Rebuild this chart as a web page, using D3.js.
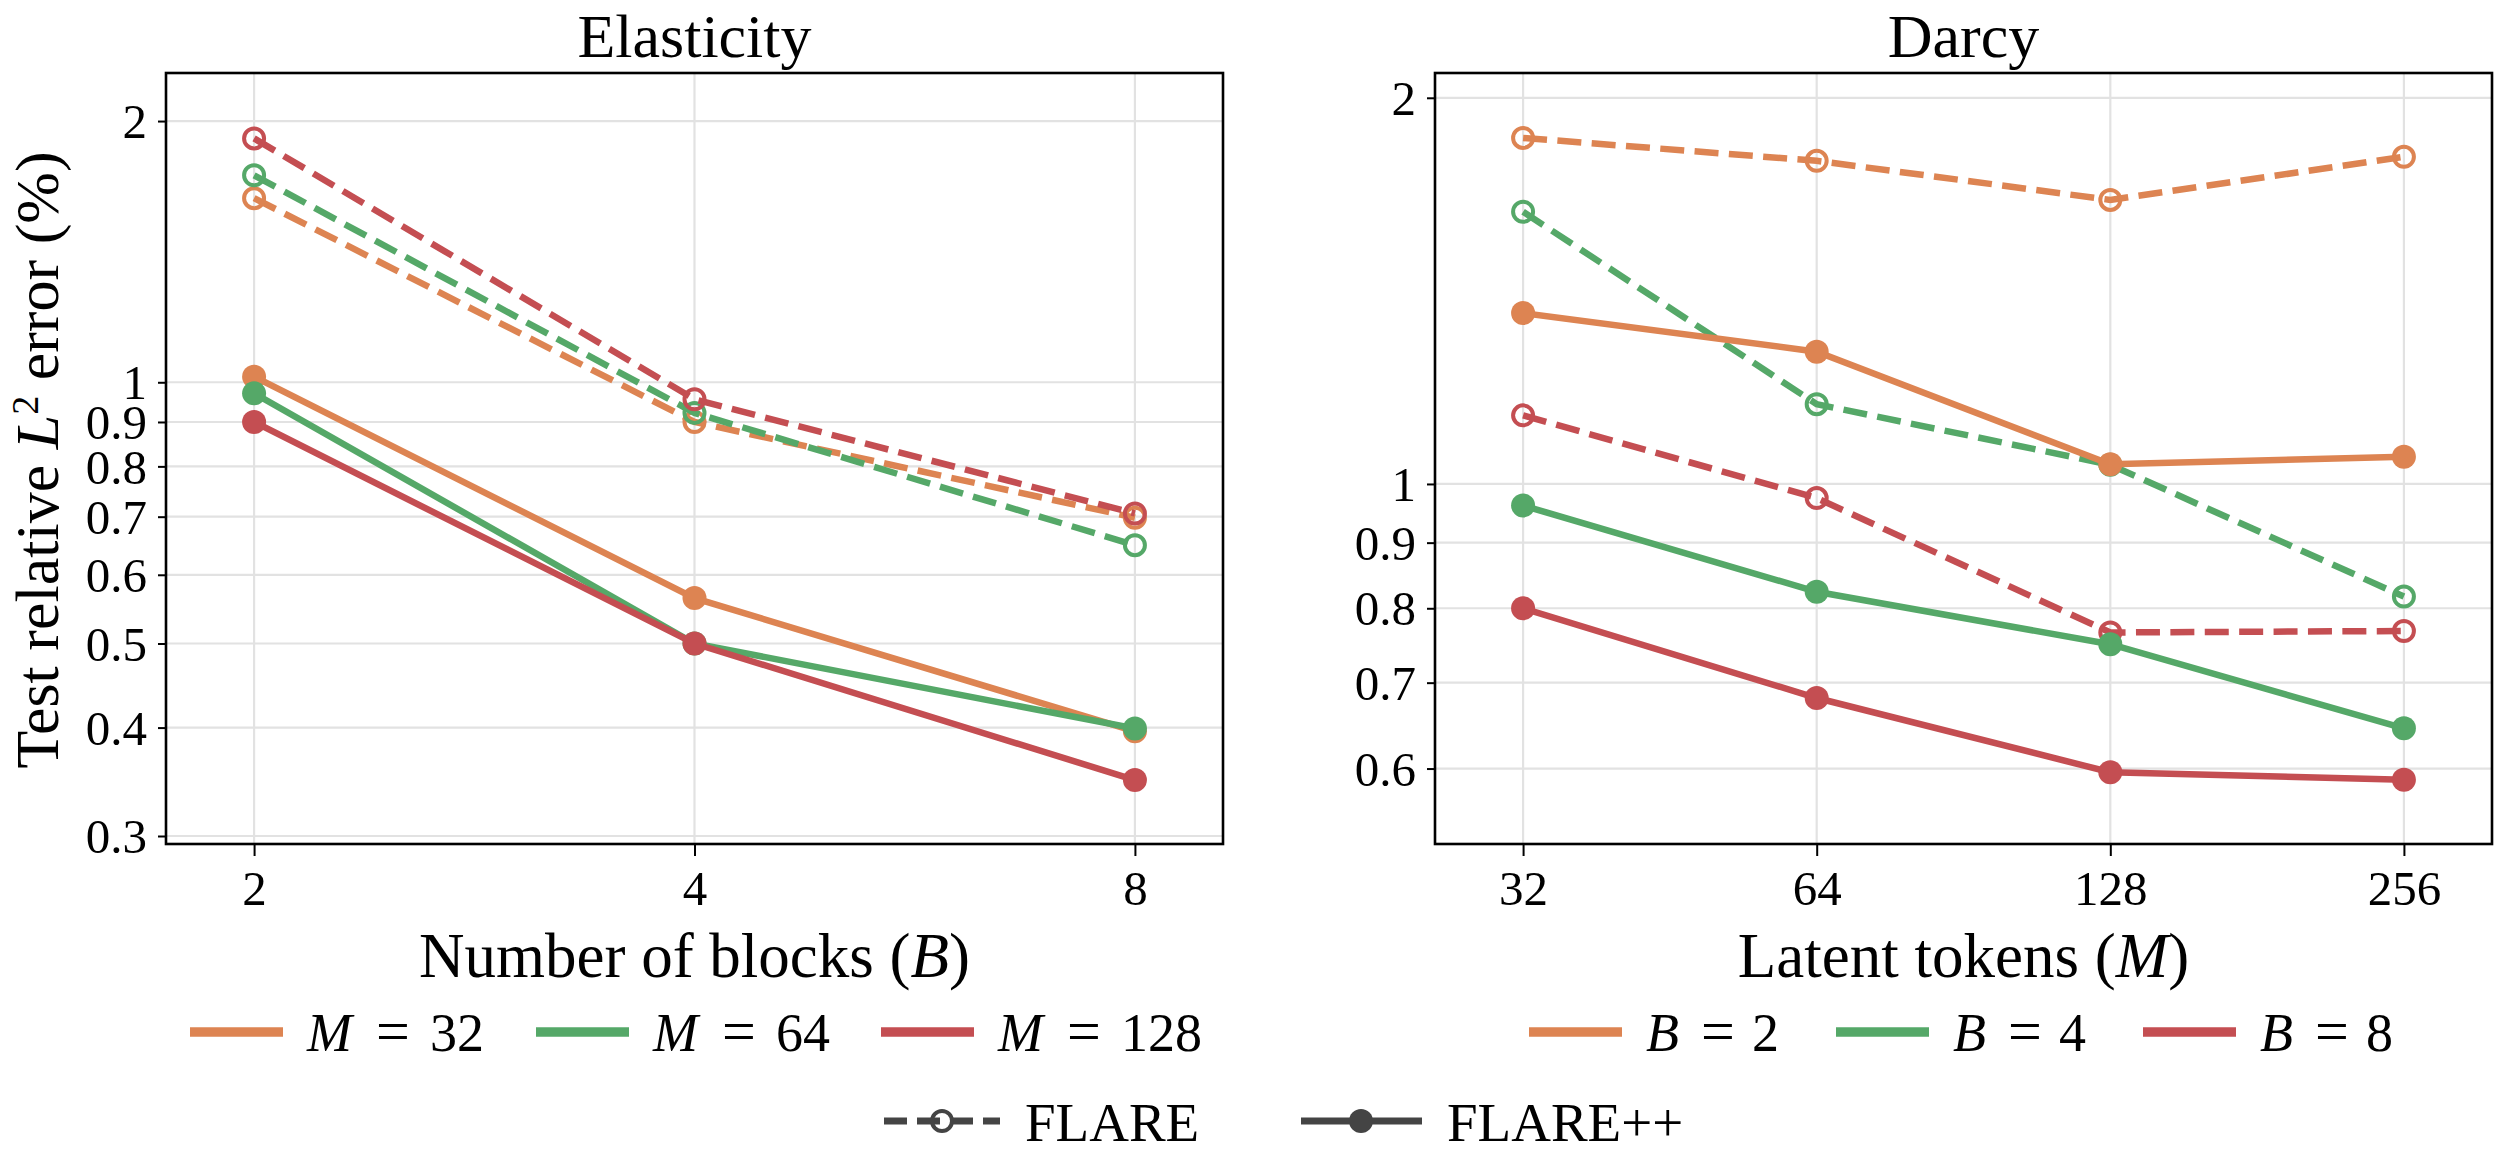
<!DOCTYPE html>
<html>
<head>
<meta charset="utf-8">
<script src="https://cdn.jsdelivr.net/npm/d3@7/dist/d3.min.js"></script>
<style>
  html, body { margin: 0; padding: 0; background: #fff; }
  svg { display: block; }
  text { font-family: "Liberation Serif", "DejaVu Serif", serif; fill: #000; }
</style>
</head>
<body>
<svg id="chart" width="2500" height="1176"></svg>
<script>
// ---------------- DATA ----------------
const elastX = [2, 4, 8];
const elastFLARE_M32   = [1.630, 0.900, 0.698];
const elastFLARE_M64   = [1.732, 0.922, 0.649];
const elastFLARE_M128  = [1.910, 0.956, 0.706];
const elastFLAREpp_M32  = [1.015, 0.564, 0.396];
const elastFLAREpp_M64  = [0.971, 0.500, 0.399];
const elastFLAREpp_M128 = [0.900, 0.500, 0.348];

const darcyX = [32, 64, 128, 256];
const darcyFLARE_B2   = [1.861, 1.786, 1.665, 1.799];
const darcyFLARE_B4   = [1.630, 1.154, 1.035, 0.817];
const darcyFLARE_B8   = [1.131, 0.975, 0.766, 0.768];
const darcyFLAREpp_B2 = [1.359, 1.268, 1.036, 1.050];
const darcyFLAREpp_B4 = [0.962, 0.824, 0.750, 0.645];
const darcyFLAREpp_B8 = [0.800, 0.681, 0.596, 0.588];

const elastYTicks = [2, 1, 0.9, 0.8, 0.7, 0.6, 0.5, 0.4, 0.3];
const elastYTickLabels = ["2", "1", "0.9", "0.8", "0.7", "0.6", "0.5", "0.4", "0.3"];
const darcyYTicks = [2, 1, 0.9, 0.8, 0.7, 0.6];
const darcyYTickLabels = ["2", "1", "0.9", "0.8", "0.7", "0.6"];
const elastXTickLabels = ["2", "4", "8"];
const darcyXTickLabels = ["32", "64", "128", "256"];

const legendElast = [["M", "32"], ["M", "64"], ["M", "128"]];
const legendDarcy = [["B", "2"], ["B", "4"], ["B", "8"]];
const methodNames = ["FLARE", "FLARE++"];

// ---------------- STYLE ----------------
const colors = ["#DD8452", "#55A868", "#C44E52"];
const dark = "#444444";
const gridColor = "#e2e2e2";
const LW = 6.5;
const DASH = "24,10.4";

const svg = d3.select("#chart");
svg.append("rect").attr("width", 2500).attr("height", 1176).attr("fill", "#fff");

const axTop = 73, axBottom = 844;

function panel(opts) {
  const g = svg.append("g");
  const x = d3.scaleLog().base(2).domain(opts.xDomain).range([opts.x0, opts.x1]);
  const y = d3.scaleLog().domain(opts.yDomain).range([axBottom, axTop]);

  const clipId = "clip" + opts.id;
  svg.append("clipPath").attr("id", clipId).append("rect")
    .attr("x", opts.x0).attr("y", axTop).attr("width", opts.x1 - opts.x0).attr("height", axBottom - axTop);

  // gridlines
  g.append("g").selectAll("line").data(opts.yTicks).join("line")
    .attr("x1", opts.x0).attr("x2", opts.x1)
    .attr("y1", d => y(d)).attr("y2", d => y(d))
    .attr("stroke", gridColor).attr("stroke-width", 2.2);
  g.append("g").selectAll("line").data(opts.xs).join("line")
    .attr("x1", d => x(d)).attr("x2", d => x(d))
    .attr("y1", axTop).attr("y2", axBottom)
    .attr("stroke", gridColor).attr("stroke-width", 2.2);

  // series: all FLARE first, then all FLARE++
  const plot = g.append("g").attr("clip-path", `url(#${clipId})`);
  const line = d3.line().x((d, i) => x(opts.xs[i])).y(d => y(d));
  opts.series.forEach((s, k) => {
    const c = colors[k];
    plot.append("path").datum(s.flare).attr("d", line)
      .attr("fill", "none").attr("stroke", c).attr("stroke-width", LW)
      .attr("stroke-dasharray", DASH);
    plot.append("g").selectAll("circle").data(s.flare).join("circle")
      .attr("cx", (d, i) => x(opts.xs[i])).attr("cy", d => y(d))
      .attr("r", 10).attr("fill", "none").attr("stroke", c).attr("stroke-width", 4);
  });
  opts.series.forEach((s, k) => {
    const c = colors[k];
    plot.append("path").datum(s.pp).attr("d", line)
      .attr("fill", "none").attr("stroke", c).attr("stroke-width", LW);
    plot.append("g").selectAll("circle").data(s.pp).join("circle")
      .attr("cx", (d, i) => x(opts.xs[i])).attr("cy", d => y(d))
      .attr("r", 12).attr("fill", c);
  });

  // frame
  g.append("rect").attr("x", opts.x0).attr("y", axTop)
    .attr("width", opts.x1 - opts.x0).attr("height", axBottom - axTop)
    .attr("fill", "none").attr("stroke", "#000").attr("stroke-width", 2.6);

  // axes
  const xAxis = d3.axisBottom(x).tickValues(opts.xs)
    .tickFormat((d, i) => opts.xLabels[i]).tickSize(12).tickPadding(14);
  const gx = g.append("g").attr("transform", `translate(0,${axBottom})`).call(xAxis);
  gx.select(".domain").remove();
  gx.selectAll(".tick line").attr("stroke", "#000").attr("stroke-width", 2);
  gx.selectAll(".tick text").attr("font-size", 49)
    .attr("fill", "#000").attr("dy", null).attr("y", 61);

  const yAxis = d3.axisLeft(y).tickValues(opts.yTicks)
    .tickFormat((d, i) => opts.yLabels[i]).tickSize(8).tickPadding(11);
  const gy = g.append("g").attr("transform", `translate(${opts.x0},0)`).call(yAxis);
  gy.select(".domain").remove();
  gy.selectAll(".tick line").attr("stroke", "#000").attr("stroke-width", 2);
  gy.selectAll(".tick text").attr("font-size", 49)
    .attr("fill", "#000").attr("dy", "0.34em");

  // title
  const cx = (opts.x0 + opts.x1) / 2;
  g.append("text").attr("x", cx).attr("y", 57).attr("text-anchor", "middle")
    .attr("font-size", 62).text(opts.title);

  // x label
  const xl = g.append("text").attr("x", cx).attr("y", 977).attr("text-anchor", "middle")
    .attr("font-size", 63);
  xl.append("tspan").text(opts.xLabel[0] + " (");
  xl.append("tspan").attr("font-style", "italic").text(opts.xLabel[1]);
  xl.append("tspan").text(")");

  // colour legend
  opts.legend.forEach((L, k) => {
    const lx = opts.legX[k];
    g.append("line").attr("x1", lx).attr("x2", lx + 93).attr("y1", 1032).attr("y2", 1032)
      .attr("stroke", colors[k]).attr("stroke-width", 9.5);
    const tx = lx + 117;
    g.append("text").attr("x", tx).attr("y", 1051).attr("font-size", 54)
      .attr("font-style", "italic").text(L[0]);
    g.append("text").attr("x", tx + opts.eqOff).attr("y", 1051).attr("font-size", 60)
      .attr("text-anchor", "middle").text("=");
    g.append("text").attr("x", tx + opts.numOff).attr("y", 1051).attr("font-size", 54)
      .text(L[1]);
  });
  return {x, y};
}

panel({
  id: "E", x0: 166, x1: 1223,
  xDomain: [2 * Math.pow(2, -0.2), 8 * Math.pow(2, 0.2)],
  yDomain: [0.2937, 2.272],
  xs: elastX, xLabels: elastXTickLabels,
  yTicks: elastYTicks, yLabels: elastYTickLabels,
  title: "Elasticity", xLabel: ["Number of blocks", "B"],
  series: [
    {flare: elastFLARE_M32, pp: elastFLAREpp_M32},
    {flare: elastFLARE_M64, pp: elastFLAREpp_M64},
    {flare: elastFLARE_M128, pp: elastFLAREpp_M128}
  ],
  legend: legendElast, legX: [190, 536, 881], eqOff: 86, numOff: 123
});

panel({
  id: "D", x0: 1435, x1: 2492,
  xDomain: [32 * Math.pow(2, -0.3), 256 * Math.pow(2, 0.3)],
  yDomain: [0.524, 2.091],
  xs: darcyX, xLabels: darcyXTickLabels,
  yTicks: darcyYTicks, yLabels: darcyYTickLabels,
  title: "Darcy", xLabel: ["Latent tokens", "M"],
  series: [
    {flare: darcyFLARE_B2, pp: darcyFLAREpp_B2},
    {flare: darcyFLARE_B4, pp: darcyFLAREpp_B4},
    {flare: darcyFLARE_B8, pp: darcyFLAREpp_B8}
  ],
  legend: legendDarcy, legX: [1529, 1836, 2143], eqOff: 72, numOff: 106
});

// y label
const yl = svg.append("text").attr("transform", "translate(58,460) rotate(-90)")
  .attr("text-anchor", "middle").attr("font-size", 62);
yl.append("tspan").text("Test relative ");
yl.append("tspan").attr("font-style", "italic").text("L");
yl.append("tspan").attr("font-size", 38).attr("dy", -20).text("2");
yl.append("tspan").attr("dy", 20).text(" error (%)");

// method legend
const ly = 1121;
svg.append("line").attr("x1", 884).attr("x2", 1000).attr("y1", ly).attr("y2", ly)
  .attr("stroke", dark).attr("stroke-width", 7).attr("stroke-dasharray", "23,10");
svg.append("circle").attr("cx", 942).attr("cy", ly).attr("r", 10)
  .attr("fill", "none").attr("stroke", dark).attr("stroke-width", 4);
svg.append("text").attr("x", 1025).attr("y", 1141).attr("font-size", 55).text(methodNames[0]);
svg.append("line").attr("x1", 1301).attr("x2", 1422).attr("y1", ly).attr("y2", ly)
  .attr("stroke", dark).attr("stroke-width", 7);
svg.append("circle").attr("cx", 1361).attr("cy", ly).attr("r", 12).attr("fill", dark);
svg.append("text").attr("x", 1447).attr("y", 1141).attr("font-size", 55).text(methodNames[1]);
</script>
</body>
</html>
